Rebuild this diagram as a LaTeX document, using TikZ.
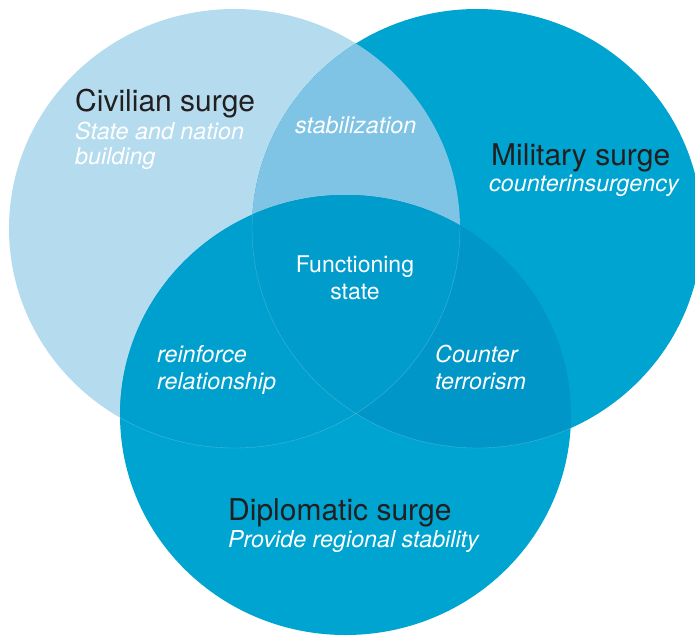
\documentclass[tikz,border=0pt]{standalone}
\usepackage{fontspec}
\setmainfont{TeX Gyre Heros}
\definecolor{civcol}{HTML}{B5DCEE}
\definecolor{milcol}{HTML}{00A4D0}
\definecolor{dipcol}{HTML}{00A4D0}
\definecolor{cmcol}{HTML}{7FC4E4}
\definecolor{cdcol}{HTML}{00A0CE}
\definecolor{mdcol}{HTML}{0096C7}
\definecolor{cmdcol}{HTML}{009CCC}
\definecolor{titlecol}{HTML}{231F20}
\begin{document}
\begin{tikzpicture}[x=1pt,y=-1pt,
  titletext/.style={inner sep=0pt,anchor=base west,text=titlecol,font=\fontsize{30}{32}\selectfont},
  subtext/.style={inner sep=0pt,anchor=base west,text=white,font=\fontsize{23.3}{26}\selectfont\itshape},
  midtext/.style={inner sep=0pt,anchor=base,text=white,font=\fontsize{23}{26}\selectfont},
  hair/.style={draw=white,draw opacity=0.25,line width=0.4pt}]
\useasboundingbox (0,0) rectangle (695,635);
\def\civ{(234.5,228.5) ellipse [x radius=225.5pt, y radius=219.5pt]}
\def\mil{(477,228.5) ellipse [x radius=225pt, y radius=219.5pt]}
\def\dip{(345.5,415) ellipse [x radius=225.5pt, y radius=220pt]}
% base fills
\fill[civcol] \civ;
\fill[milcol] \mil;
\fill[dipcol] \dip;
% pairwise overlaps
\begin{scope}\clip \civ; \fill[cmcol] \mil; \end{scope}
\begin{scope}\clip \civ; \fill[cdcol] \dip; \end{scope}
\begin{scope}\clip \mil; \fill[mdcol] \dip; \end{scope}
\begin{scope}\clip \civ; \clip \mil; \fill[cmdcol] \dip; \end{scope}
% faint hairlines inside the diplomatic circle
\begin{scope}\clip \dip; \path[hair] \civ; \path[hair] \mil; \end{scope}
% labels
\node[titletext] (civtitle) at (75,111) {Civilian surge};
\node[subtext] (civsub1) at (75,139) {State and nation};
\node[subtext] (civsub2) at (75,164) {building};
\node[subtext] (stab) at (295,133) {stabilization};
\node[titletext] (miltitle) at (491,165) {Military surge};
\node[subtext] (milsub) at (489,191) {counterinsurgency};
\node[midtext] (func1) at (355,272) {Functioning};
\node[midtext] (func2) at (355,299) {state};
\node[subtext] (rein1) at (157,362) {reinforce};
\node[subtext] (rein2) at (157,389) {relationship};
\node[subtext] (cter1) at (435,362) {Counter};
\node[subtext] (cter2) at (435,389) {terrorism};
\node[titletext] (diptitle) at (228,520) {Diplomatic surge};
\node[subtext] (dipsub) at (228,547) {Provide regional stability};
\end{tikzpicture}
\end{document}
